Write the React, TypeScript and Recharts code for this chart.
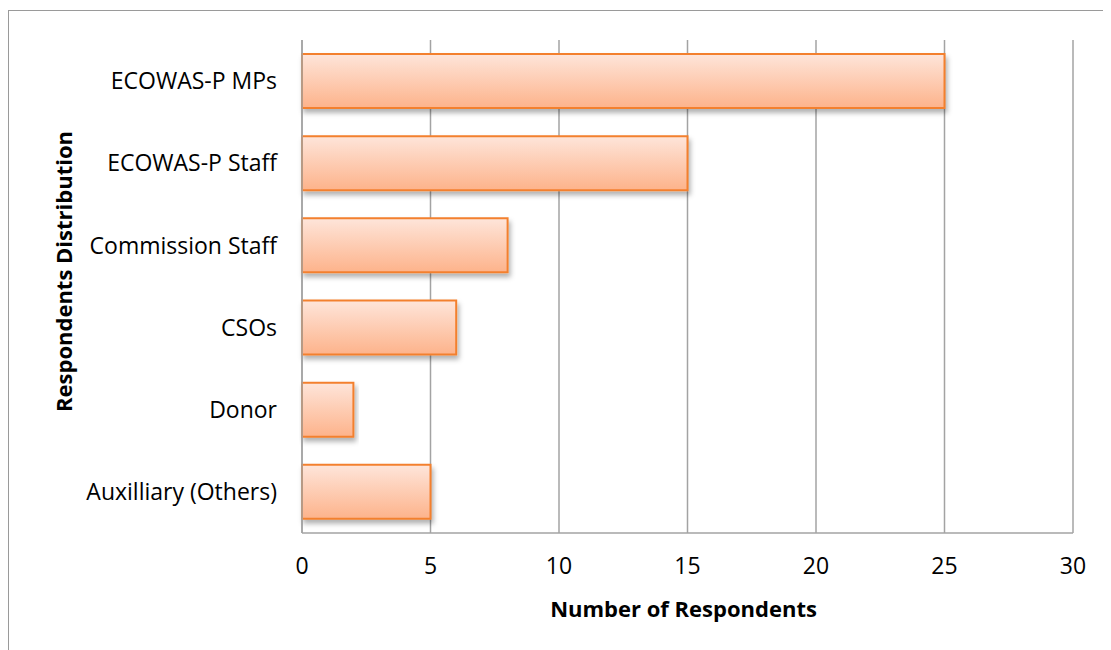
import React from 'react';
import { BarChart, Bar, XAxis, YAxis, CartesianGrid, Label } from 'recharts';

const categories = [
  'ECOWAS-P MPs',
  'ECOWAS-P Staff',
  'Commission Staff',
  'CSOs',
  'Donor',
  'Auxilliary (Others)',
];
const respondents = [25, 15, 8, 6, 2, 5];
const xTicks = [0, 5, 10, 15, 20, 25, 30];

const data = categories.map((name, i) => ({ name, value: respondents[i] }));

const FONT = '"Open Sans", Lato, sans-serif';
const GRID = '#a3a3a3';

// y title sits a little above the plot's middle, like the original
const YTitle = (props: any) => {
  const vb = props.viewBox || {};
  const cx = vb.x + 55;
  const cy = vb.y + vb.height / 2 - 15;
  return (
    <text
      x={cx}
      y={cy}
      transform={`rotate(-90, ${cx}, ${cy})`}
      textAnchor="middle"
      dominantBaseline="central"
      style={{ fontSize: 22, fontWeight: 700, fill: '#000', fontFamily: FONT }}
    >
      Respondents Distribution
    </text>
  );
};

export default function App() {
  return (
    <div style={{ position: 'relative', width: 1103, height: 642, fontFamily: FONT }}>
      <div
        style={{
          position: 'absolute',
          top: 2,
          left: 0,
          width: 1120,
          height: 660,
          borderTop: '1.5px solid #9a9a9a',
          borderLeft: '1.5px solid #9a9a9a',
          boxSizing: 'border-box',
        }}
      />
      <BarChart
        width={1103}
        height={642}
        data={data}
        layout="vertical"
        margin={{ top: 32, right: 38, left: 0, bottom: 0 }}
        barCategoryGap="17%"
        style={{ position: 'absolute', top: 0, left: 0 }}
      >
        <defs>
          <linearGradient id="barFill" x1="0" y1="0" x2="0" y2="1">
            <stop offset="0%" stopColor="#fee5da" />
            <stop offset="100%" stopColor="#fdb38b" />
          </linearGradient>
          <filter id="barShadow" x="-5%" y="-20%" width="115%" height="160%">
            <feDropShadow dx="2" dy="4" stdDeviation="2.5" floodColor="#000" floodOpacity="0.3" />
          </filter>
        </defs>
        <CartesianGrid horizontal={false} stroke={GRID} strokeWidth={1.5} />
        <XAxis
          type="number"
          domain={[0, 30]}
          ticks={xTicks}
          height={117}
          tickLine={false}
          tickMargin={19}
          axisLine={{ stroke: GRID, strokeWidth: 1.5 }}
          tick={{ fontSize: 23, fill: '#000', fontFamily: FONT }}
        >
          <Label
            value="Number of Respondents"
            position="insideBottom"
            offset={33}
            dx={-4}
            style={{ fontSize: 22, fontWeight: 700, fill: '#000', fontFamily: FONT }}
          />
        </XAxis>
        <YAxis
          type="category"
          dataKey="name"
          width={294}
          tickLine={false}
          tickMargin={19}
          axisLine={{ stroke: GRID, strokeWidth: 1.5 }}
          tick={{ fontSize: 23, fill: '#000', fontFamily: FONT }}
        >
          <Label content={YTitle} />
        </YAxis>
        <Bar
          dataKey="value"
          fill="url(#barFill)"
          stroke="#f3802f"
          strokeWidth={2}
          filter="url(#barShadow)"
          isAnimationActive={false}
        />
      </BarChart>
    </div>
  );
}
